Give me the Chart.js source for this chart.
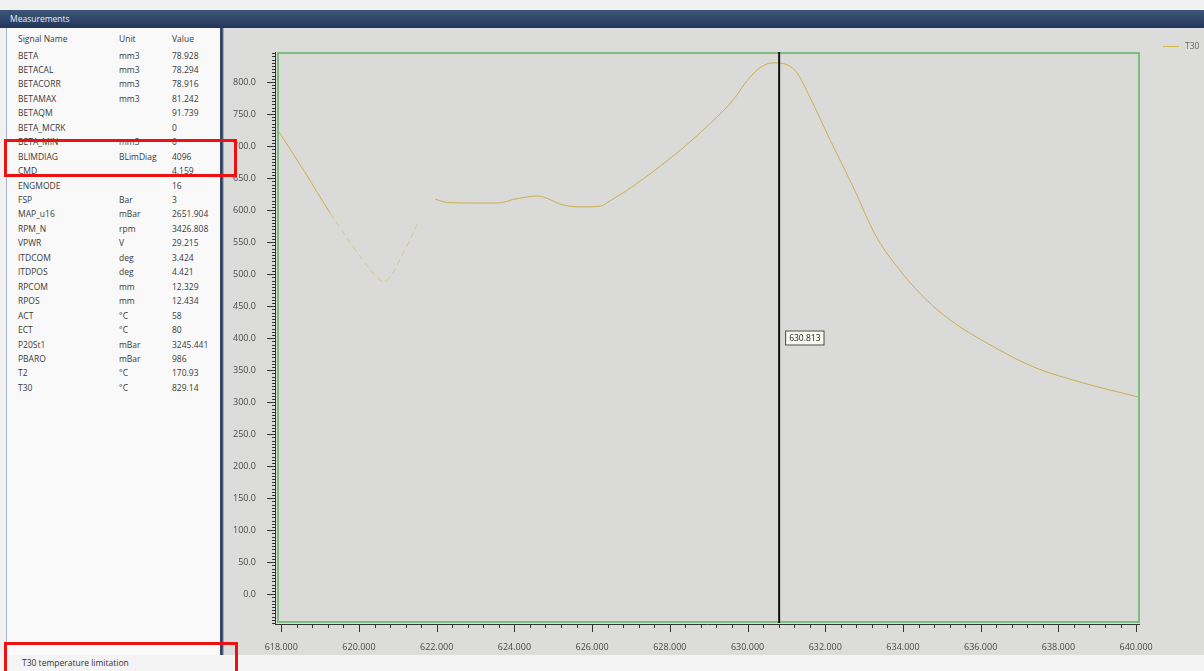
<!DOCTYPE html>
<html>
<head>
<meta charset="utf-8">
<script src="https://cdn.jsdelivr.net/npm/chart.js@4.4.1/dist/chart.umd.min.js"></script>
<style>
  body { margin: 0; width: 1204px; height: 671px; overflow: hidden; background: #f1f1f1;
         font-family: 'Open Sans', sans-serif; position: relative; }
  #titlebar { position: absolute; left: 0; top: 10px; width: 1204px; height: 18px;
              background: linear-gradient(#3f5679, #223659); color: #e8edf5; font-size: 8.5px;
              line-height: 18px; padding-left: 10px; box-sizing: border-box; }
  #left { position: absolute; left: 6px; top: 28px; width: 214px; height: 627px;
          background: #f9f9f9; border-left: 1px solid #a9b4c4; box-sizing: border-box; }
  #splitter { position: absolute; left: 220px; top: 28px; width: 4px; height: 627px;
              background: linear-gradient(90deg, #3b4f72, #26395c, #c9ced6); }
  #right { position: absolute; left: 224px; top: 28px; width: 980px; height: 632px; background: #dcdcdb; }
  .row { position: absolute; height: 14px; line-height: 14px; font-size: 8.5px; color: #3a3a3a; white-space: nowrap; }
  #status { position: absolute; left: 0; top: 655px; width: 1204px; height: 16px; background: #f4f4f4;
            font-size: 8.5px; line-height: 16px; color: #333; padding-left: 22px; box-sizing: border-box; }
  .mark { position: absolute; border: 3px solid #ee1111; box-sizing: border-box; }
  #legend { position: absolute; left: 1163px; top: 40px; font-size: 8.5px; color: #666; }
  #legend span.ln { display: inline-block; width: 16px; height: 1.5px; background: #d2b84a;
                    vertical-align: middle; margin-right: 6px; }
</style>
</head>
<body>
<div id="titlebar">Measurements</div>
<div id="left"></div>
<div id="splitter"></div>
<div id="right"><canvas id="t30-chart"></canvas></div>
<div id="legend"><span class="ln"></span>T30</div>
<div id="status">T30 temperature limitation</div>
<div class="mark" style="left:4px;top:139px;width:233px;height:38px;"></div>
<div class="mark" style="left:4px;top:642px;width:234px;height:34px;"></div>

<script>
// Measurement table
var signalNames = ['BETA', 'BETACAL', 'BETACORR', 'BETAMAX', 'BETAQM', 'BETA_MCRK', 'BETA_MIN', 'BLIMDIAG',
	'CMD', 'ENGMODE', 'FSP', 'MAP_u16', 'RPM_N', 'VPWR', 'ITDCOM', 'ITDPOS', 'RPCOM', 'RPOS',
	'ACT', 'ECT', 'P20St1', 'PBARO', 'T2', 'T30'];
var signalUnits = ['mm3', 'mm3', 'mm3', 'mm3', '', '', 'mm3', 'BLimDiag',
	'', '', 'Bar', 'mBar', 'rpm', 'V', 'deg', 'deg', 'mm', 'mm',
	'°C', '°C', 'mBar', 'mBar', '°C', '°C'];
var signalValues = ['78.928', '78.294', '78.916', '81.242', '91.739', '0', '0', '4096',
	'4.159', '16', '3', '2651.904', '3426.808', '29.215', '3.424', '4.421', '12.329', '12.434',
	'58', '80', '3245.441', '986', '170.93', '829.14'];

// T30 trace (time in s, temperature)
var timeS = [617.9, 618.6, 619.26, 619.6, 620.0, 620.4, 620.63, 620.85, 621.14, 621.53, 621.75,
	621.96, 622.27, 622.94, 623.56, 624.07, 624.59, 625.26, 625.7, 626.2, 626.47, 626.9,
	627.76, 628.45, 629.12, 629.63, 630.0, 630.33, 630.67, 631.02, 631.28, 631.6, 632.13,
	632.72, 633.3, 634.0, 634.6, 635.22, 636.17, 637.36, 638.64, 640.06];
var t30 = [726, 660, 595, 565, 530, 499, 488, 500, 533, 581, null,
	617, 612, 611, 611, 618, 622, 608, 605, 606, 615, 631,
	669, 703, 740, 772, 803, 823, 830, 827, 814, 777, 709,
	636, 560, 500, 460, 428, 392, 355, 330, 308];
var xTickVals = [618, 620, 622, 624, 626, 628, 630, 632, 634, 636, 638, 640];
var yTickVals = [0, 50, 100, 150, 200, 250, 300, 350, 400, 450, 500, 550, 600, 650, 700, 750, 800];
var cursorX = 630.813;

(function () {
	'use strict';

	var left = document.getElementById('left');
	function addRow(y, a, b, c) {
		[[a, 11], [b, 112], [c, 165]].forEach(function (cell) {
			var d = document.createElement('div');
			d.className = 'row';
			d.style.left = cell[1] + 'px';
			d.style.top = y + 'px';
			d.textContent = cell[0];
			left.appendChild(d);
		});
	}
	addRow(4, 'Signal Name', 'Unit', 'Value');
	signalNames.forEach(function (n, i) {
		addRow(20.5 + i * 14.45, n, signalUnits[i], signalValues[i]);
	});

	var lineColor = '#c9b04c';
	var faintColor = 'rgba(201, 176, 76, 0.45)';
	function faint(ctx) {
		var x = ctx.p0.parsed.x;
		return x >= 619.2 && x < 621.6;
	}

	var canvas = document.getElementById('t30-chart');
	canvas.width = 980;
	canvas.height = 632;

	Chart.defaults.font.family = "'Open Sans', sans-serif";
	Chart.defaults.font.size = 9;
	Chart.defaults.color = '#4a4a4a';

	var axisColor = '#333';
	var deco = {
		id: 'deco',
		beforeDatasetsDraw: function (chart) {
			var a = chart.chartArea, c = chart.ctx;
			c.save();
			c.fillStyle = '#dadad9';
			c.fillRect(a.left, a.top, a.right - a.left, a.bottom - a.top);
			c.restore();
		},
		afterDraw: function (chart) {
			var a = chart.chartArea, c = chart.ctx;
			var xs = chart.scales.x, ys = chart.scales.y;
			c.save();
			// axes + ticks
			c.strokeStyle = axisColor;
			c.lineWidth = 1;
			c.beginPath();
			c.moveTo(a.left - 1.5, a.top); c.lineTo(a.left - 1.5, a.bottom + 2);
			c.moveTo(a.left - 2, a.bottom + 1.5); c.lineTo(a.right, a.bottom + 1.5);
			var v;
			for (v = 618; v <= 640.01; v += 0.4) {
				var px = Math.round(xs.getPixelForValue(v)) + 0.5;
				var major = Math.abs(v - Math.round(v / 2) * 2) < 0.01;
				c.moveTo(px, a.bottom + 1.5); c.lineTo(px, a.bottom + (major ? 9 : 5));
			}
			for (v = -45; v <= 845; v += 5) {
				var py = Math.round(ys.getPixelForValue(v)) + 0.5;
				var maj = v % 50 === 0;
				c.moveTo(a.left - 1.5, py); c.lineTo(a.left - (maj ? 10 : 5), py);
			}
			c.stroke();
			// plot frame
			c.strokeStyle = '#7dbd7d';
			c.lineWidth = 2;
			c.strokeRect(a.left + 1, a.top + 1, a.right - a.left - 2, a.bottom - a.top - 2);
			// cursor
			var cx = xs.getPixelForValue(cursorX);
			c.strokeStyle = '#111';
			c.lineWidth = 2;
			c.beginPath();
			c.moveTo(cx, a.top); c.lineTo(cx, a.bottom);
			c.stroke();
			var label = cursorX.toFixed(3);
			c.font = "8.5px 'Open Sans', sans-serif";
			var w = c.measureText(label).width + 8;
			var by = (a.top + a.bottom) / 2 - 7;
			c.fillStyle = '#fbfbf2';
			c.fillRect(cx + 6, by, w, 15);
			c.strokeStyle = '#444';
			c.lineWidth = 1;
			c.strokeRect(cx + 6.5, by + 0.5, w - 1, 14);
			c.fillStyle = '#222';
			c.textBaseline = 'middle';
			c.fillText(label, cx + 10, by + 8);
			c.restore();
		}
	};

	var chartT30 = new Chart(canvas.getContext('2d'), {
		type: 'line',
		data: {
			datasets: [
				{
					label: 'T30',
					data: timeS.map(function (t, i) { return { x: t, y: t30[i] }; }),
					borderColor: lineColor,
					borderWidth: 1,
					pointRadius: 0,
					tension: 0.35,
					cubicInterpolationMode: 'monotone',
					segment: {
						borderColor: function (ctx) { return faint(ctx) ? faintColor : lineColor; },
						borderDash: function (ctx) { return faint(ctx) ? [6, 4] : undefined; },
					},
				},
			],
		},
		options: {
			responsive: false,
			animation: false,
			layout: { padding: { top: 24, right: 64, left: 0, bottom: 0 } },
			plugins: { legend: { display: false }, tooltip: { enabled: false } },
			scales: {
				x: {
					type: 'linear',
					min: 617.89,
					max: 640.1,
					grid: { display: false },
					border: { display: false },
					afterFit: function (s) { s.height = 37; },
					afterBuildTicks: function (s) {
						s.ticks = xTickVals.map(function (v) { return { value: v }; });
					},
					ticks: {
						padding: 11,
						maxRotation: 0,
						autoSkip: false,
						callback: function (v) { return Number(v).toFixed(3); },
					},
				},
				y: {
					min: -45,
					max: 847,
					grid: { display: false },
					border: { display: false },
					afterFit: function (s) { s.width = 53; },
					afterBuildTicks: function (s) {
						s.ticks = yTickVals.map(function (v) { return { value: v }; });
					},
					ticks: {
						padding: 13,
						autoSkip: false,
						callback: function (v) { return Number(v).toFixed(1); },
					},
				},
			},
		},
		plugins: [deco],
	});
})();
</script>
</body>
</html>
